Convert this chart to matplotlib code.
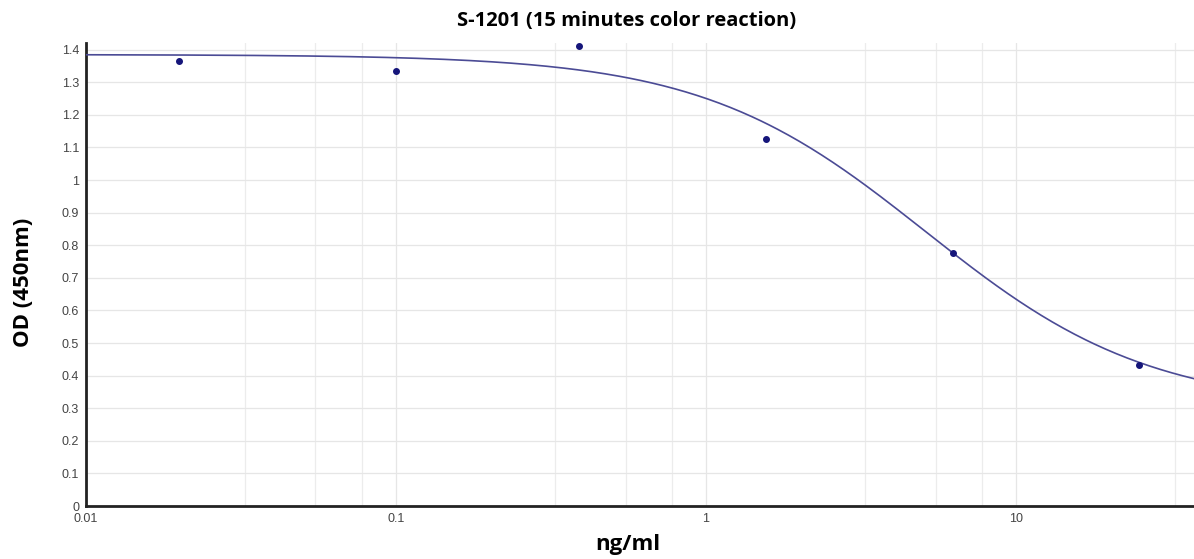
import numpy as np
import matplotlib as mpl
mpl.use('Agg')
import matplotlib.pyplot as plt
from matplotlib.ticker import FixedLocator, NullFormatter

# gemessene punkte
conc = [0.02, 0.1, 0.39, 1.5625, 6.25, 25.0]
od = [1.365, 1.335, 1.41, 1.126, 0.776, 0.432]

# 4PL parameter
top = 1.385
bottom = 0.30
ic50 = 5.1
slope = 1.2

yticks = [0, 0.1, 0.2, 0.3, 0.4, 0.5, 0.6, 0.7, 0.8, 0.9, 1, 1.1, 1.2, 1.3, 1.4]
ylabels = ['0', '0.1', '0.2', '0.3', '0.4', '0.5', '0.6', '0.7', '0.8', '0.9', '1', '1.1', '1.2', '1.3', '1.4']
xticks = [0.01, 0.1, 1, 10]
xlabels = ['0.01', '0.1', '1', '10']
minor_steps = [3.25, 5.5, 7.75]  # gitter innerhalb einer dekade

fig = plt.figure(figsize=(11.94, 5.59), dpi=100)
ax = fig.add_axes([0.072, 0.0948, 0.928, 0.828])

xs = np.logspace(-2, np.log10(37.5), 400)
ys = bottom + (top - bottom) / (1 + (xs / ic50) ** slope)
ax.plot(xs, ys, color='#4b4b95', lw=1.2, zorder=3)
ax.scatter(conc, od, s=16, color='#15157a', zorder=4, clip_on=False)

ax.set_xscale('log')
ax.set_xlim(0.01, 37.5)
ax.set_ylim(0, 1.42)

ax.set_yticks(yticks)
ax.set_yticklabels(ylabels)
ax.set_xticks(xticks)
ax.set_xticklabels(xlabels)
minor = [m * 10.0 ** e for e in range(-2, 2) for m in minor_steps]
ax.xaxis.set_minor_locator(FixedLocator(minor))
ax.xaxis.set_minor_formatter(NullFormatter())

ax.grid(True, which='major', color='#e6e6e6', lw=0.9)
ax.grid(True, which='minor', axis='x', color='#ececec', lw=0.9)
ax.set_axisbelow(True)

for s in ['top', 'right']:
    ax.spines[s].set_visible(False)
for s in ['left', 'bottom']:
    ax.spines[s].set_linewidth(2)
    ax.spines[s].set_color('#222222')

ax.tick_params(which='both', length=0, labelsize=9, labelcolor='#444444')
ax.tick_params(axis='y', pad=5)
ax.tick_params(axis='x', pad=5)
for t in ax.get_xticklabels() + ax.get_yticklabels():
    t.set_fontfamily('Liberation Sans')

fig.text(0.525, 0.963, 'S-1201 (15 minutes color reaction)', ha='center', va='center',
         fontsize=14.5, fontweight='bold', family='Open Sans')
fig.text(0.526, 0.026, 'ng/ml', ha='center', va='center',
         fontsize=16, fontweight='bold', family='Open Sans')
fig.text(0.02, 0.495, 'OD (450nm)', ha='center', va='center', rotation=90,
         fontsize=16, fontweight='bold', family='Open Sans')

plt.savefig('out.png')
